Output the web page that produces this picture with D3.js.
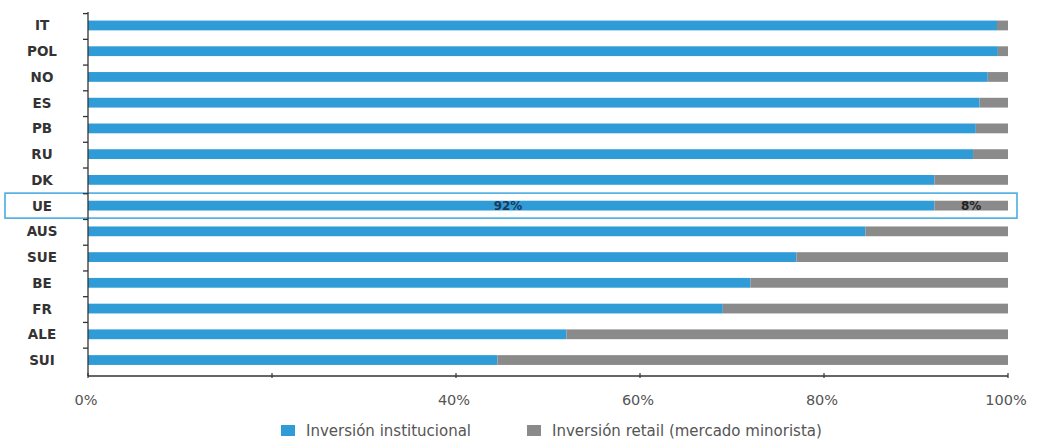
<!DOCTYPE html>
<html><head><meta charset="utf-8">
<script src="https://cdn.jsdelivr.net/npm/d3@7"></script>
<style>body{margin:0;background:#fff;} svg{display:block;}</style>
</head><body><svg id="c" width="1037" height="439"></svg>
<script>
const categories = ["IT","POL","NO","ES","PB","RU","DK","UE","AUS","SUE","BE","FR","ALE","SUI"];
const institucional = [98.8, 98.9, 97.8, 96.9, 96.5, 96.2, 92, 92, 84.5, 77, 72, 69, 52, 44.5];
const retail = institucional.map(v => 100 - v);
const xTicks = [0, 20, 40, 60, 80, 100];
const xTickLabels = ["0%", "", "40%", "60%", "80%", "100%"];
const seriesNames = ["Inversión institucional", "Inversión retail (mercado minorista)"];
const highlight = "UE";
const highlightLabels = ["92%", "8%"];

const FONT = "DejaVu Sans, Verdana, sans-serif";
const blue = "#2f9bd7", grey = "#8a8a8a";
const svg = d3.select("#c");
const x = d3.scaleLinear().domain([0, 100]).range([88, 1008]);
const y = d3.scaleBand().domain(categories).range([12.6, 372.9]).paddingInner(0.62).paddingOuter(0.31);
const bh = y.bandwidth();

// highlight box
const hy = y(highlight) + bh / 2;
svg.append("rect").attr("x", 5).attr("y", hy - 12.5).attr("width", 1012).attr("height", 25)
  .attr("fill", "none").attr("stroke", "#49ade0").attr("stroke-width", 1.6);

// bars
const g = svg.append("g");
categories.forEach((c, i) => {
  g.append("rect").attr("x", x(0)).attr("y", y(c)).attr("width", x(institucional[i]) - x(0)).attr("height", bh).attr("fill", blue);
  g.append("rect").attr("x", x(institucional[i])).attr("y", y(c)).attr("width", x(100) - x(institucional[i])).attr("height", bh).attr("fill", grey);
});

// highlight labels
const hi = categories.indexOf(highlight);
svg.append("text").attr("x", 508).attr("y", hy + 4.5).attr("text-anchor", "middle")
  .attr("font-family", FONT).attr("font-size", 12).attr("font-weight", "bold").attr("fill", "#1b3a5a").text(highlightLabels[0]);
svg.append("text").attr("x", x(institucional[hi] + retail[hi] / 2)).attr("y", hy + 4.5).attr("text-anchor", "middle")
  .attr("font-family", FONT).attr("font-size", 12).attr("font-weight", "bold").attr("fill", "#222").text(highlightLabels[1]);

// y axis line + ticks at band boundaries
svg.append("line").attr("x1", 88).attr("x2", 88).attr("y1", 12).attr("y2", 376).attr("stroke", "#333").attr("stroke-width", 1.3);
categories.forEach(c => {
  const ty = y(c) - y.step() * y.paddingInner() / 2 + 1;
  svg.append("line").attr("x1", 83).attr("x2", 88).attr("y1", ty).attr("y2", ty).attr("stroke", "#333").attr("stroke-width", 1.3);
});
// category labels
categories.forEach(c => {
  svg.append("text").attr("x", 42).attr("y", y(c) + bh / 2 + 5).attr("text-anchor", "middle")
    .attr("font-family", FONT).attr("font-size", 13.5).attr("fill", "#333").attr("font-weight", "bold")
    .text(c);
});

// x axis
svg.append("line").attr("x1", 88).attr("x2", 1008).attr("y1", 376).attr("y2", 376).attr("stroke", "#333").attr("stroke-width", 1.6);
xTicks.forEach((t, i) => {
  svg.append("line").attr("x1", x(t)).attr("x2", x(t)).attr("y1", 373).attr("y2", 378).attr("stroke", "#333").attr("stroke-width", 1.2);
  if (xTickLabels[i]) svg.append("text").attr("x", x(t) - 2).attr("y", 405).attr("text-anchor", "middle")
    .attr("font-family", FONT).attr("font-size", 14.5).attr("fill", "#555").text(xTickLabels[i]);
});

// legend
const lg = [[281, blue], [527, grey]];
lg.forEach((l, i) => {
  svg.append("rect").attr("x", l[0]).attr("y", 425).attr("width", 14).attr("height", 11).attr("fill", l[1]);
  svg.append("text").attr("x", l[0] + 25).attr("y", 436).attr("font-family", FONT)
    .attr("font-size", 15).attr("fill", "#555").text(seriesNames[i]);
});
</script></body></html>
